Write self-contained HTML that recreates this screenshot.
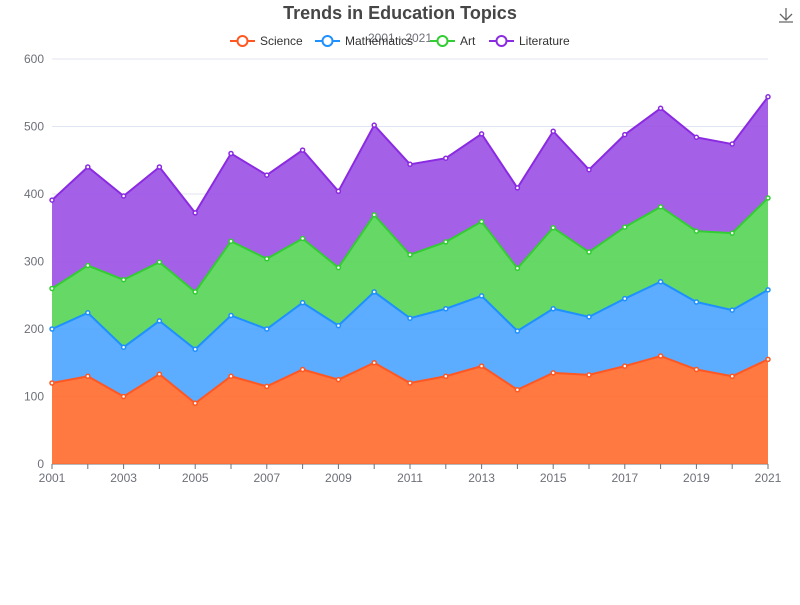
<!DOCTYPE html>
<html><head><meta charset="utf-8"><style>
body{margin:0;background:#fff;font-family:"Liberation Sans","Noto Sans CJK SC",sans-serif}
svg text{font-family:"Liberation Sans","Noto Sans CJK SC",sans-serif}
</style></head><body>
<svg id="chart" width="800" height="600" viewBox="0 0 800 600" xmlns="http://www.w3.org/2000/svg">
<text x="400" y="19" text-anchor="middle" font-size="18" font-weight="bold" fill="#464646">Trends in Education Topics</text>
<text x="400" y="42" text-anchor="middle" font-size="12" fill="#6e7079">2001 - 2021</text>
<g stroke="#666" fill="none" stroke-width="1.3"><path d="M786 8v12M780 14l6 6 6-6M779 22h14"/></g>
<g id="grid"></g><g id="areas"></g><g id="lines"></g><g id="points"></g><g id="axes"></g><g id="legend"></g>
</svg>
<script>
const years = [2001,2002,2003,2004,2005,2006,2007,2008,2009,2010,2011,2012,2013,2014,2015,2016,2017,2018,2019,2020,2021];
const science = [120,130,100,133,90,130,115,140,125,150,120,130,145,110,135,132,145,160,140,130,155];
const mathematics = [80,94,73,79,80,90,85,99,80,105,96,100,104,87,95,86,100,110,100,98,103];
const art = [60,70,100,87,85,110,104,95,86,114,94,99,110,93,120,96,106,111,105,114,136];
const literature = [131,146,124,141,117,130,124,131,113,133,134,124,130,119,143,122,137,146,139,132,150];
const yTicks = [0,100,200,300,400,500,600];
const seriesNames = ['Science','Mathematics','Art','Literature'];
const lineColors = ['#ff5722','#1e90ff','#32cd32','#8a2be2'];
const fillColors = ['#ff6a2b','#4aa3ff','#55d455','#9b4fe6'];
const NS='http://www.w3.org/2000/svg';
const X0=52,X1=768,Y0=464,Y1=59;
function xs(i){return X0+(X1-X0)*i/(years.length-1);}
function ys(v){return Y0-(Y0-Y1)*v/600;}
function mk(tag,attrs,parent){const e=document.createElementNS(NS,tag);for(const k in attrs)e.setAttribute(k,attrs[k]);parent.appendChild(e);return e;}
const G=id=>document.getElementById(id);
yTicks.forEach(t=>{
  const l=mk('line',{x1:X0,x2:X1,y1:ys(t),y2:ys(t),stroke:t===0?'#6e7079':'#e0e6f1'},G('grid'));
  
  
  const tx=mk('text',{x:X0-8,y:ys(t)+4,'text-anchor':'end','font-size':12,fill:'#6e7079'},G('axes'));
  tx.textContent=t;
  
  
});
years.forEach((yr,i)=>{
  const tk=mk('line',{x1:xs(i),x2:xs(i),y1:Y0,y2:Y0+5,stroke:'#6e7079'},G('axes'));
  
  
  if(i%2===0){
    const tx=mk('text',{x:xs(i),y:Y0+18,'text-anchor':'middle','font-size':12,fill:'#6e7079'},G('axes'));
    tx.textContent=yr;
    
    
  }
});
const data=[science,mathematics,art,literature];
let base=years.map(()=>0);
data.forEach((s,k)=>{
  const top=base.map((b,i)=>b+s[i]);
  let d='M'+top.map((v,i)=>xs(i)+','+ys(v)).join(' L');
  for(let i=years.length-1;i>=0;i--)d+=' L'+xs(i)+','+ys(base[i]);
  const a=mk('path',{d:d+'Z',fill:fillColors[k],'fill-opacity':0.9},G('areas'));
  
  
  const ln=mk('polyline',{points:top.map((v,i)=>xs(i)+','+ys(v)).join(' '),fill:'none',stroke:lineColors[k],'stroke-width':2},G('lines'));
  
  
  top.forEach((v,i)=>{
    const c=mk('circle',{cx:xs(i),cy:ys(v),r:2,fill:'#fff',stroke:lineColors[k],'stroke-width':1.5},G('points'));
    
    
  });
  base=top;
});
const lx=[230,315,430,489];
seriesNames.forEach((n,k)=>{
  const g=mk('g',{},G('legend'));
  
  
  mk('line',{x1:lx[k],x2:lx[k]+25,y1:41,y2:41,stroke:lineColors[k],'stroke-width':2},g);
  mk('circle',{cx:lx[k]+12.5,cy:41,r:5,fill:'#fff',stroke:lineColors[k],'stroke-width':2},g);
  const t=mk('text',{x:lx[k]+30,y:45,'font-size':12,fill:'#333'},g);
  t.textContent=n;
});
</script>
</body></html>
